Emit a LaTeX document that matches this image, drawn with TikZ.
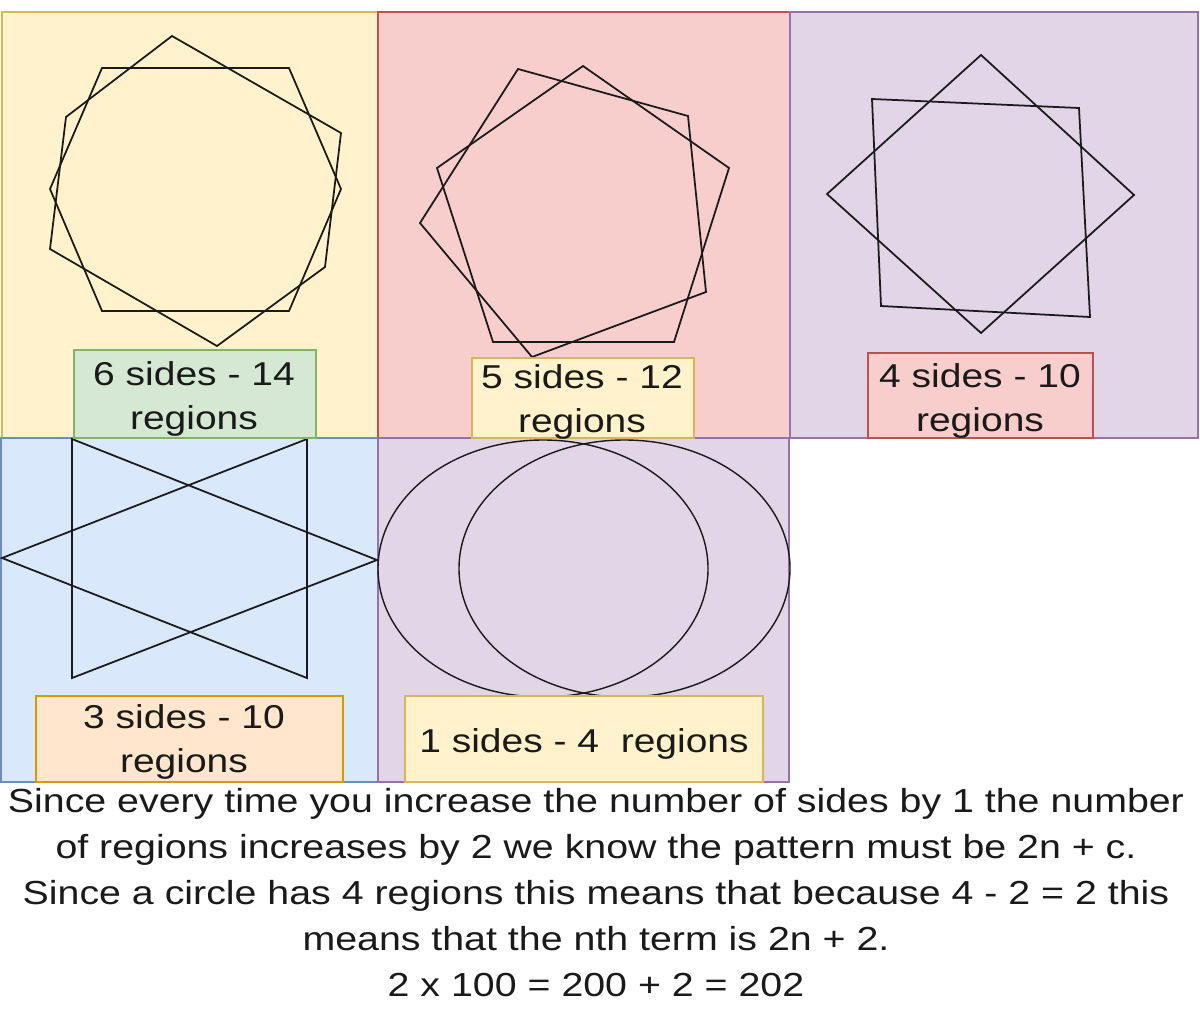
\documentclass[tikz,border=0pt]{standalone}
\usepackage{fontspec}
\setmainfont[FakeStretch=1.18]{Liberation Sans}
\definecolor{yfill}{HTML}{FFF2CC}\definecolor{ydraw}{HTML}{D6B656}
\definecolor{rfill}{HTML}{F8CECC}\definecolor{rdraw}{HTML}{B85450}
\definecolor{pfill}{HTML}{E1D5E7}\definecolor{pdraw}{HTML}{9673A6}
\definecolor{bfill}{HTML}{DAE8FC}\definecolor{bdraw}{HTML}{6C8EBF}
\definecolor{gfill}{HTML}{D5E8D4}\definecolor{gdraw}{HTML}{82B366}
\definecolor{ofill}{HTML}{FFE6CC}\definecolor{odraw}{HTML}{D79B00}
\definecolor{ink}{HTML}{1A1A1A}
\begin{document}
\begin{tikzpicture}[x=0.025cm,y=-0.025cm,
  panel/.style={line width=0.8pt},
  figline/.style={draw=ink, line width=1.25pt, line join=miter},
  lbl/.style={font=\fontsize{23.5pt}{31.3pt}\selectfont, align=center, inner sep=0pt, text=ink},
  body/.style={font=\fontsize{23.7pt}{32.7pt}\selectfont, align=center, inner sep=0pt, text=ink}]
\useasboundingbox (0,0) rectangle (1200,1011);
\fill[white] (0,0) rectangle (1200,1011);
% panels
\filldraw[panel, fill=yfill, draw=ydraw] (2,12) rectangle (378,438);
\filldraw[panel, fill=rfill, draw=rdraw] (378,12) rectangle (790,438);
\filldraw[panel, fill=pfill, draw=pdraw] (790,12) rectangle (1198,438);
\filldraw[panel, fill=bfill, draw=bdraw] (1,438) rectangle (378,782);
\filldraw[panel, fill=pfill, draw=pdraw] (378,438) rectangle (789,782);
% hexagons
\draw[figline] (102,68) -- (289,68) -- (341,189) -- (289,311) -- (102,311) -- (50,189) -- cycle;
\draw[figline] (172,36) -- (341,133) -- (325,267) -- (217,346) -- (50,249) -- (66,117) -- cycle;
% pentagons
\draw[figline] (583,66) -- (729,168) -- (674,342) -- (493,342) -- (437,168) -- cycle;
\draw[figline] (518,69) -- (688,116) -- (706,292) -- (532,357) -- (420,223) -- cycle;
% squares
\draw[figline] (981,55) -- (1134,195) -- (981,333) -- (827,194) -- cycle;
\draw[figline] (872,99) -- (1079,108) -- (1090,317) -- (881,306) -- cycle;
% triangles
\draw[figline] (72,439) -- (72,678) -- (377,560) -- cycle;
\draw[figline] (307,439) -- (307,678) -- (2,558) -- cycle;
% ellipses
\draw[figline, line width=1pt] (543,568.5) ellipse [x radius=165, y radius=128.5];
\draw[figline, line width=1pt] (624.5,568.5) ellipse [x radius=165.5, y radius=128.5];
% label boxes
\filldraw[panel, fill=gfill, draw=gdraw] (74,350) rectangle (316,438);
\filldraw[panel, fill=yfill, draw=ydraw] (472,358) rectangle (694,438);
\filldraw[panel, fill=rfill, draw=rdraw] (868,353) rectangle (1093,438);
\filldraw[panel, fill=ofill, draw=odraw] (36,696) rectangle (343,782);
\filldraw[panel, fill=yfill, draw=ydraw] (405,696) rectangle (763,782);
% label texts
\node[lbl] (l6) at (194,398.5) {6 sides - 14\\regions};
\node[lbl] (l5) at (582,401.5) {5 sides - 12\\regions};
\node[lbl] (l4) at (980,400.5) {4 sides - 10\\regions};
\node[lbl] (l3) at (184,741.5) {3 sides - 10\\regions};
\node[lbl] (l1) at (584,743.5) {1 sides - 4~ regions};
% explanation
\node[body] (expl) at (596,893) {Since every time you increase the number of sides by 1 the number\\
of regions increases by 2 we know the pattern must be 2n + c.\\
Since a circle has 4 regions this means that because 4 - 2 = 2 this\\
means that the nth term is 2n + 2.\\
2 x 100 = 200 + 2 = 202};
\end{tikzpicture}
\end{document}
